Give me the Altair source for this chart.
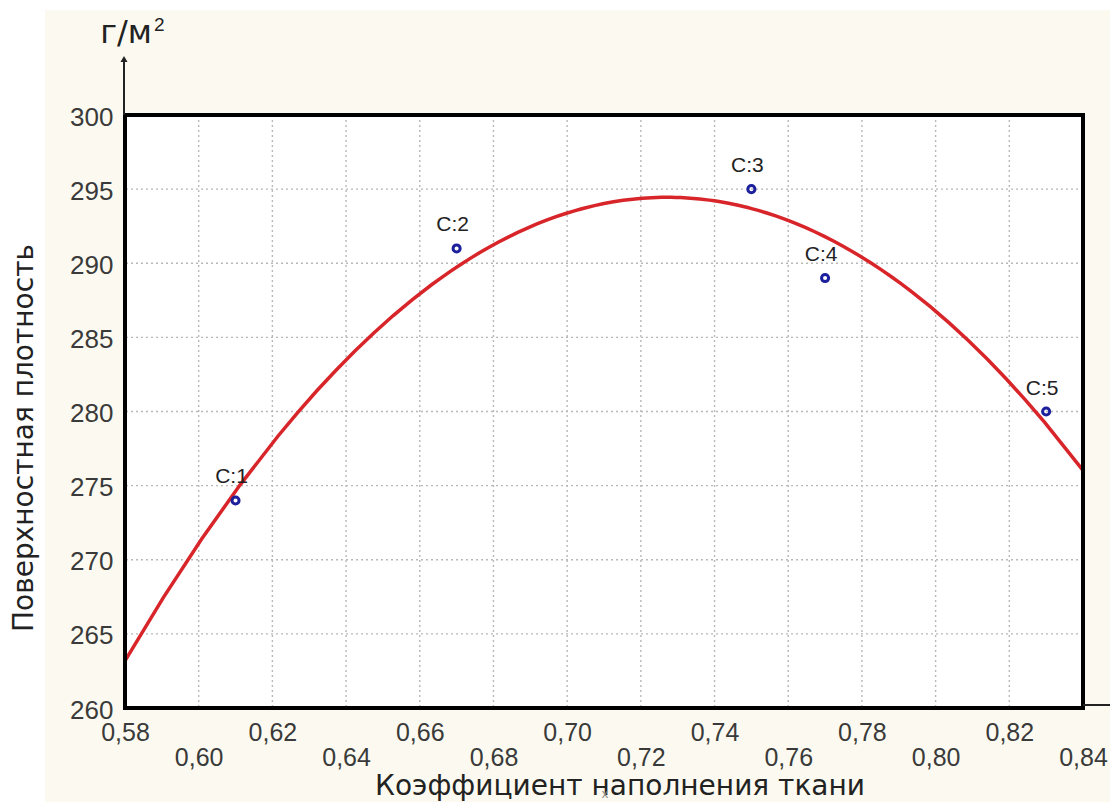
import altair as alt
import pandas as pd

# ---- data ----
x_vals = [0.61, 0.67, 0.75, 0.77, 0.83]
y_vals = [274, 291, 295, 289, 280]
point_labels = ["C:1", "C:2", "C:3", "C:4", "C:5"]

x_ticks = [0.58, 0.60, 0.62, 0.64, 0.66, 0.68, 0.70, 0.72, 0.74, 0.76, 0.78, 0.80, 0.82, 0.84]
y_ticks = [260, 265, 270, 275, 280, 285, 290, 295, 300]

x_title = "Коэффициент наполнения ткани"
y_title = "Поверхностная плотность"
unit_text = "г/м"
unit_sup = "2"

W, H = 958, 593
FONT = "Liberation Sans"
TFONT = "DejaVu Sans"
CREAM = "#fcfaf0"

pts = pd.DataFrame({"x": x_vals, "y": y_vals, "label": point_labels})
xgrid = pd.DataFrame({"x": x_ticks[1:-1]})
ygrid = pd.DataFrame({"y": y_ticks[1:-1]})
one = pd.DataFrame({"k": [0]})

xscale = alt.Scale(domain=[x_ticks[0], x_ticks[-1]], nice=False, zero=False)
yscale = alt.Scale(domain=[y_ticks[0], y_ticks[-1]], nice=False, zero=False)

lab = "replace(format(datum.value, '.2f'), '.', ',')"
x_axis = alt.Axis(
    values=x_ticks, title=None, grid=False, domain=False, ticks=False,
    labelExpr=f"(round(datum.value*100) % 4 == 2) ? {lab} : ['', {lab}]",
    labelFont=FONT, labelFontSize=25, labelColor="#3a3a3a",
    labelBaseline="top", labelPadding=12, labelLineHeight=25,
    labelFlush=False, labelOverlap=False, labelBound=False, zindex=2,
)
y_axis = alt.Axis(
    values=y_ticks, title=None, grid=False, domain=False, ticks=False,
    labelFont=FONT, labelFontSize=26, labelColor="#3a3a3a",
    labelPadding=12, labelOffset=2, labelOverlap=False, labelFlush=False, zindex=2,
)

X = alt.X("x:Q", scale=xscale, axis=x_axis)
Y = alt.Y("y:Q", scale=yscale, axis=y_axis)

# background panels
cream = alt.Chart(one).mark_rect(color=CREAM).encode(
    x=alt.value(-80), x2=alt.value(W + 40), y=alt.value(-105), y2=alt.value(H + 95)
)
white = alt.Chart(one).mark_rect(color="white").encode(
    x=alt.value(0), x2=alt.value(W), y=alt.value(0), y2=alt.value(H)
)

grid_style = dict(color="#b8b8b8", strokeWidth=1.4, strokeDash=[2, 3])
gx = alt.Chart(xgrid).mark_rule(**grid_style).encode(x=X)
gy = alt.Chart(ygrid).mark_rule(**grid_style).encode(y=Y)

curve = alt.Chart(pts).transform_regression(
    "x", "y", method="poly", order=2, extent=[x_ticks[0], x_ticks[-1]]
).mark_line(color="#d8252a", strokeWidth=3.5).encode(x=X, y=Y)

points = alt.Chart(pts).mark_point(
    filled=False, color="#1c209c", strokeWidth=3, size=50, opacity=1
).encode(x=X, y=Y)

labels = alt.Chart(pts).mark_text(
    font=FONT, fontSize=21, color="#222222", dx=-4, dy=-23, baseline="middle"
).encode(x=X, y=Y, text="label:N")

border = alt.Chart(one).mark_rect(fillOpacity=0, stroke="black", strokeWidth=4).encode(
    x=alt.value(0), x2=alt.value(W), y=alt.value(0), y2=alt.value(H)
)
ext = alt.Chart(one).mark_rule(color="#222222", strokeWidth=2).encode(
    x=alt.value(W), x2=alt.value(W + 40), y=alt.value(H - 3)
)
arrow_line = alt.Chart(one).mark_rule(color="#222222", strokeWidth=2).encode(
    x=alt.value(-1), y=alt.value(-56), y2=alt.value(0)
)
arrow_head = alt.Chart(one).mark_point(
    shape="triangle-up", filled=True, color="#222222", size=50, opacity=1
).encode(x=alt.value(-1), y=alt.value(-56))

unit = alt.Chart(one).mark_text(
    font=TFONT, fontSize=32, color="#222222", align="right", baseline="alphabetic"
).encode(x=alt.value(27), y=alt.value(-72), text=alt.value(unit_text))
sup = alt.Chart(one).mark_text(
    font=FONT, fontSize=19, color="#222222", align="left", baseline="alphabetic"
).encode(x=alt.value(29), y=alt.value(-84), text=alt.value(unit_sup))

xt = alt.Chart(one).mark_text(
    font=TFONT, fontSize=28, color="#222222", align="center", baseline="alphabetic"
).encode(x=alt.value(495), y=alt.value(680), text=alt.value(x_title))
xmark = alt.Chart(one).mark_text(
    font=FONT, fontSize=13, color="#888888", align="center", baseline="middle"
).encode(x=alt.value(480), y=alt.value(679), text=alt.value("x"))
yt = alt.Chart(one).mark_text(
    font=TFONT, fontSize=28, color="#222222", align="center", baseline="alphabetic", angle=270
).encode(x=alt.value(-92), y=alt.value(323), text=alt.value(y_title))

chart = alt.layer(
    cream, white, gx, gy, curve, points, labels, border, ext,
    arrow_line, arrow_head, unit, sup, xt, xmark, yt,
).properties(
    width=W, height=H,
    autosize=alt.AutoSizeParams(type="none"),
    padding={"left": 117, "top": 107, "right": 27, "bottom": 94},
    background="white",
).configure_view(stroke=None)

chart.save("out.html", embed_options={"renderer": "svg", "actions": False})
